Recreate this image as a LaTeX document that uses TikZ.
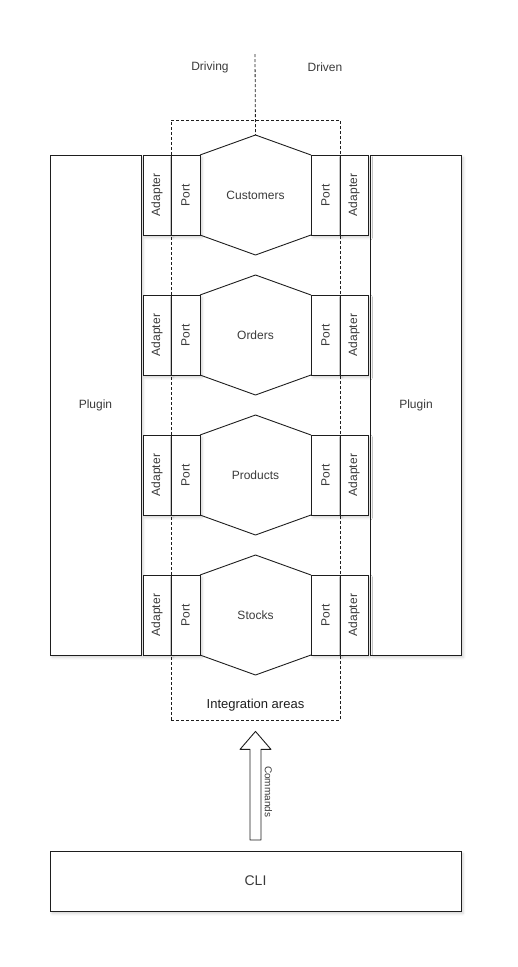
\documentclass[tikz,border=0pt]{standalone}
\usepackage{fontspec}
\setmainfont{Liberation Sans}
\usepackage{graphicx}
\usepackage{tikz}
\usetikzlibrary{positioning,calc,shadows.blur}
\definecolor{HXink}{HTML}{1E1E1E}
\definecolor{HXtext}{HTML}{3A3A3A}
\tikzset{
  sketchbox/.style={draw=HXink, line width=0.9pt, fill=white, text=HXtext, inner sep=0pt, outer sep=0pt, font=\fontsize{12}{14}\selectfont,
    blur shadow={shadow xshift=2pt, shadow yshift=-2.5pt, shadow blur radius=2.5pt, shadow opacity=18}},
  plugbox/.style={sketchbox, minimum width=91pt, minimum height=500pt},
  adbox/.style={sketchbox, minimum width=28pt, minimum height=80pt},
  portbox/.style={sketchbox, minimum width=29pt, minimum height=80pt},
  dombox/.style={minimum width=111pt, minimum height=80pt, inner sep=0pt, outer sep=0pt, text=HXtext, font=\fontsize{12}{14}\selectfont},
  hexline/.style={draw=HXink, line width=0.9pt, line join=round},
  zoneline/.style={draw=HXink, line width=0.8pt, dash pattern=on 3pt off 2pt},
  sidelabel/.style={text=HXtext, font=\fontsize{12}{14}\selectfont}
}
\begin{document}
\begin{tikzpicture}[x=1pt, y=-1pt]
  \useasboundingbox (0,0) rectangle (517,967);
  % integration zone behind the rows
  \node[zoneline, minimum width=169pt, minimum height=600pt] (ia) at (255.5,420) {};
  \node[above=6pt of ia.south, text=HXink, font=\fontsize{13}{15}\selectfont] (ialbl) {Integration areas};
  \node[sidelabel] (driving) at (210,67) {Driving};
  \node[sidelabel] (driven) at (325,67) {Driven};
  \node[plugbox] (plugL) at (95.5,405) {Plugin};
  \node[plugbox] (plugR) at (416,405) {Plugin};
  \foreach \i/\name in {0/Customers,1/Orders,2/Products,3/Stocks}{
    \pgfmathsetmacro\yc{195+140*\i}
    \node[adbox] (adL\i) at (157,\yc) {\rotatebox{90}{Adapter}};
    \node[portbox, right=0pt of adL\i] (portL\i) {\rotatebox{90}{Port}};
    \node[dombox, right=0pt of portL\i] (dom\i) {\name};
    \node[portbox, right=0pt of dom\i] (portR\i) {\rotatebox{90}{Port}};
    \node[adbox, right=0pt of portR\i] (adR\i) {\rotatebox{90}{Adapter}};
    \coordinate (top\i) at ($(dom\i.north)+(0,-20)$);
    \coordinate (bot\i) at ($(dom\i.south)+(0,20)$);
    \draw[hexline] (portL\i.north east) -- (top\i) -- (portR\i.north west);
    \draw[hexline] (portL\i.south east) -- (bot\i) -- (portR\i.south west);
  }
  \draw[zoneline] (255,54) -- (top0);
  \node[sketchbox, minimum width=411pt, minimum height=60pt, font=\fontsize{14}{16}\selectfont] (cli) at (255.5,881) {CLI};
  % hollow arrow CLI -> integration areas
  \coordinate (a1) at ($(ia.south)+(0,11)$);
  \coordinate (a0) at ($(cli.north)+(0,-11)$);
  \draw[hexline, fill=white] ($(a0)+(-5.5,0)$) -- ($(a1)+(-5.5,18)$) -- ($(a1)+(-15.5,18)$) -- (a1)
    -- ($(a1)+(15.5,18)$) -- ($(a1)+(5.5,18)$) -- ($(a0)+(5.5,0)$) -- cycle;
  \node[rotate=-90, text=HXtext, font=\fontsize{10}{12}\selectfont] (cmd) at ($(a0)!0.5!(a1)+(13,6)$) {Commands};
\end{tikzpicture}
\end{document}
